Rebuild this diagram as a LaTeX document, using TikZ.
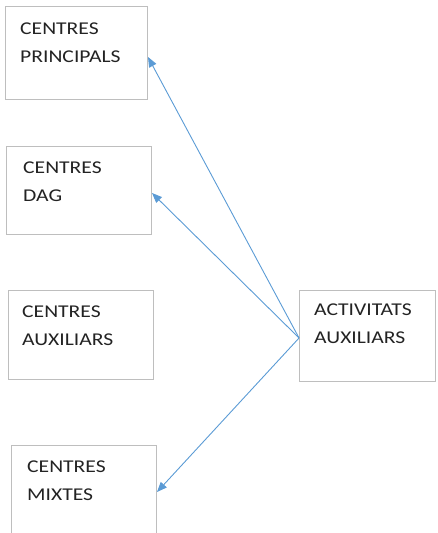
\documentclass[tikz,border=0pt]{standalone}
\usepackage{fontspec}
\setmainfont{Carlito}[FakeStretch=1.2]
\usetikzlibrary{arrows.meta}
\definecolor{arrowblue}{RGB}{91,155,213}
\definecolor{boxgray}{RGB}{190,190,190}
\definecolor{txt}{RGB}{35,35,35}
\tikzset{
  box/.style={draw=boxgray, line width=0.9pt, fill=white, rectangle, inner sep=0pt},
  lbl/.style={anchor=base west, inner sep=0pt, text=txt, align=left,
    font=\fontsize{18}{28}\selectfont},
  conn/.style={draw=arrowblue, line width=0.9pt, -{Triangle[length=10pt,width=8pt]}}
}
\begin{document}
\begin{tikzpicture}[x=1pt,y=-1pt]
\useasboundingbox (0,0) rectangle (437,533);
\clip (0,0) rectangle (437,533);
\node[box, minimum width=142pt, minimum height=93pt] (b1) at (76,52.5) {};
\node[box, minimum width=145pt, minimum height=88pt] (b2) at (78.5,190) {};
\node[box, minimum width=145pt, minimum height=89pt] (b3) at (80.5,334.5) {};
\node[box, minimum width=145pt, minimum height=100pt] (b4) at (83.5,495) {};
\node[box, minimum width=136pt, minimum height=91pt] (b5) at (367.5,336) {};
\node[lbl] (t1) at (20,62) {CENTRES\\PRINCIPALS};
\node[lbl] (t2) at (23,201) {CENTRES\\DAG};
\node[lbl] (t3) at (22,345) {CENTRES\\AUXILIARS};
\node[lbl] (t4) at (27,500) {CENTRES\\MIXTES};
\node[lbl] (t5) at (314,343.5) {ACTIVITATS\\AUXILIARS};
\coordinate (s) at (b5.west |- 0,338);
\coordinate (e1) at (148,57);
\coordinate (e2) at (152,193);
\coordinate (e4) at (157,492);
\draw[conn] (s) -- (e1);
\draw[conn] (s) -- (e2);
\draw[conn] (s) -- (e4);
\end{tikzpicture}
\end{document}
